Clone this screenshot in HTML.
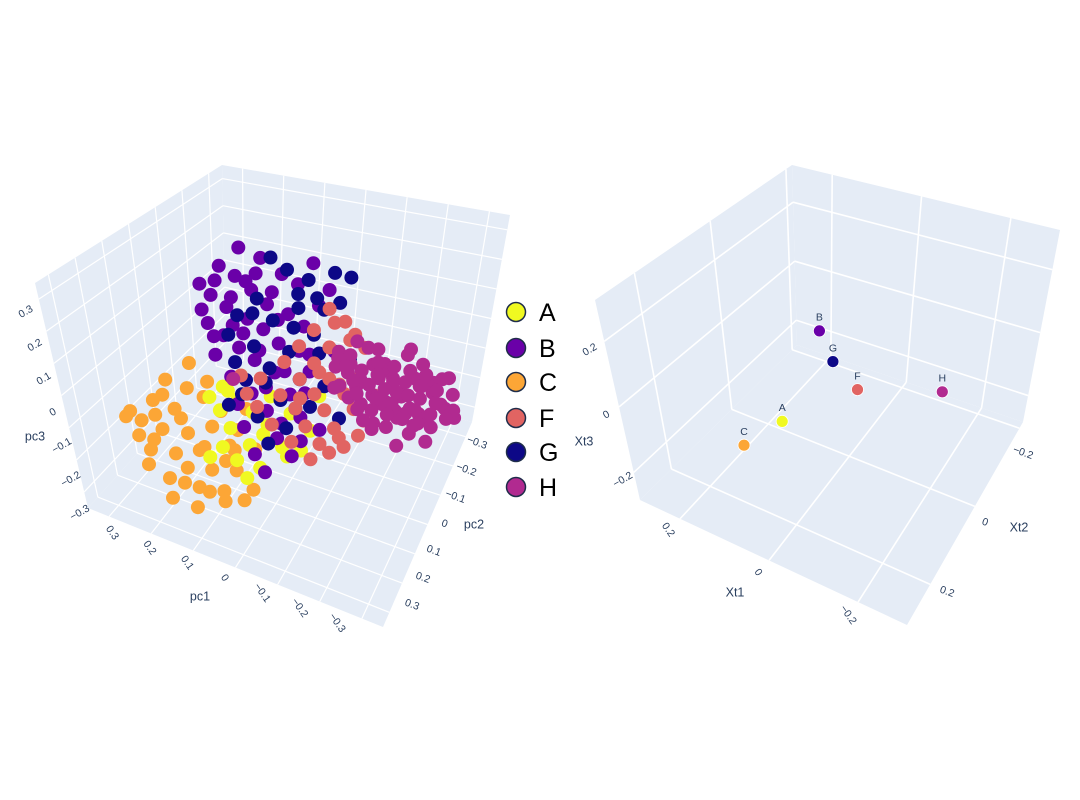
<!DOCTYPE html>
<html><head><meta charset="utf-8"><style>
html,body{margin:0;padding:0;background:#fff;}
svg{display:block;font-family:"Liberation Sans",sans-serif;}
</style></head><body>
<svg id="chart" width="1080" height="800" viewBox="0 0 1080 800">
<rect width="1080" height="800" fill="#fff"/>
<g id="left"></g>
<g id="right"></g>
<g id="legend"></g>
</svg>
<script>
// ---- data ----
const categories = ["A","B","C","F","G","H"];
const seriesA = [[0.202,0,-0.171],[0.166,0,-0.122],[0.119,0,-0.067],[0.131,0,-0.150],[0.178,0,-0.205],[0.095,0,-0.177],[0.154,0,-0.253],[0.059,0,-0.204],[0.107,0,-0.289],[0.024,0,-0.261],[0.143,0,-0.354],[-0.024,0,-0.252],[0.083,0,-0.353],[0.178,0,-0.326],[-0.071,0,-0.060],[-0.048,0,-0.179],[0.048,0,-0.107],[0,0,-0.143],[0.119,0,-0.402],[0.214,0,-0.375],[0.154,0,-0.131],[0.071,0,-0.240],[0.012,0,-0.286]];
const seriesB = [[0.154,0,0.279],[0.059,0,0.337],[0.119,0,0.258],[0.012,0,0.301],[0.178,0,0.175],[0.083,0,0.225],[-0.024,0,0.280],[0.143,0,0.148],[0.048,0,0.191],[0.190,0,0.078],[0.095,0,0.127],[0,0,0.176],[0.154,0,0.051],[0.059,0,0.106],[-0.036,0,0.149],[0.119,0,0.024],[0.024,0,0.073],[0.178,0,-0.022],[-0.071,0,0.228],[-0.024,0,0.067],[0.083,0,-0.003],[0.143,0,-0.080],[0.036,0,-0.025],[-0.048,0,0.010],[0.095,0,-0.116],[0,0,-0.082],[0.059,0,-0.158],[0.119,0,-0.235],[-0.024,0,-0.146],[0.036,0,-0.237],[0.095,0,-0.314],[0,0,-0.280],[-0.071,0,-0.167],[0.071,0,-0.362],[0.202,0,0.203],[0.107,0,0.355],[-0.095,0,0.286],[-0.059,0,0.359],[-0.107,0,0.095],[0.131,0,-0.165],[0.202,0,0.118],[0.095,0,0.249],[0.036,0,0.234],[0.131,0,0.093],[0.166,0,0.227],[0.131,0,0.184],[0.071,0,0.283],[0.024,0,0.149],[0.178,0,0.039],[0.107,0,0.075],[0.071,0,0.033],[0.012,0,-0.012],[0.059,0,-0.082],[-0.036,0,-0.064],[0.024,0,-0.185],[-0.024,0,-0.222],[-0.048,0,0.064]];
const seriesC = [[0.103,0.25,0.148],[0.162,0.25,0.072],[0.115,0.25,0.066],[0.198,0.25,-0.007],[0.257,0.25,-0.068],[0.233,0.25,-0.086],[0.150,0.25,-0.013],[0.079,0.25,0.054],[0.043,0.25,0.027],[0.186,0.25,-0.092],[0.126,0.25,-0.077],[0.067,0.25,-0.031],[0.008,0.25,-0.016],[0.222,0.25,-0.172],[0.162,0.25,-0.156],[0.103,0.25,-0.119],[0.031,0.25,-0.073],[-0.028,0.25,-0.058],[0.138,0.25,-0.189],[0.079,0.25,-0.168],[0.186,0.25,-0.244],[0.020,0.25,-0.143],[0.115,0.25,-0.238],[0.055,0.25,-0.222],[0.186,0.25,-0.305],[-0.016,0.25,-0.185],[0.126,0.25,-0.305],[0.055,0.25,-0.253],[0.233,0.25,-0.223],[0.269,0.25,-0.090],[0.138,0.25,-0.037],[0.091,0.25,-0.104],[-0.016,0.25,0.058],[0.174,0.25,0.020],[0.043,0.25,-0.125],[0.245,0.25,-0.138],[0.210,0.25,-0.135],[0.067,0.25,0.106],[0.198,0.25,-0.053],[0.020,0.25,-0.082],[0.150,0.25,-0.241],[0.091,0.25,-0.241],[0.008,0.25,-0.228]];
const seriesF = [[-0.095,0,0.226],[-0.131,0,0.198],[-0.059,0,0.146],[-0.154,0,0.165],[-0.024,0,0.082],[-0.095,0,0.104],[-0.178,0,0.132],[0.012,0,0.018],[-0.059,0,0.040],[-0.131,0,0.071],[0.071,0,-0.058],[-0.024,0,-0.024],[-0.095,0,0.004],[-0.166,0,0.034],[0.107,0,-0.122],[0.024,0,-0.094],[-0.059,0,-0.058],[-0.131,0,-0.030],[-0.012,0,-0.122],[-0.083,0,-0.100],[-0.154,0,-0.069],[0.048,0,-0.198],[-0.036,0,-0.170],[-0.107,0,-0.148],[-0.178,0,-0.096],[0,0,-0.234],[-0.071,0,-0.212],[-0.131,0,-0.197],[-0.048,0,-0.270],[-0.202,0,-0.008],[-0.119,0,-0.173],[0.083,0,-0.155],[0.119,0,-0.067],[-0.107,0,0.186],[-0.143,0,0.144],[-0.071,0,0.016],[-0.119,0,-0.005],[-0.024,0,-0.085],[-0.095,0,-0.230],[-0.166,0,-0.148]];
const seriesG = [[0.036,0,0.346],[0,0,0.319],[-0.048,0,0.302],[-0.107,0,0.344],[-0.143,0,0.341],[-0.119,0,0.253],[-0.067,0,0.250],[0.071,0,0.201],[0.119,0,0.130],[-0.024,0,0.204],[0.143,0,0.057],[0.036,0,0.143],[-0.059,0,0.131],[0.083,0,0.042],[0,0,0.055],[0.131,0,-0.028],[-0.071,0,0.076],[0.048,0,-0.016],[-0.024,0,-0.024],[0.107,0,-0.077],[-0.083,0,-0.024],[0.024,0,-0.109],[0.083,0,-0.186],[-0.048,0,-0.103],[0.012,0,-0.195],[-0.119,0,-0.112],[0.059,0,-0.264],[0.154,0,-0.177],[-0.143,0,0.083],[-0.012,0,0.137],[0.083,0,0.149],[-0.024,0,0.249],[-0.083,0,0.219],[0.059,0,-0.067],[-0.012,0,-0.122],[0.119,0,-0.128]];
const seriesH = [[-0.10,-0.14,0.02],[-0.16,-0.12,0.03],[-0.22,-0.17,0.01],[-0.06,-0.13,-0.02],[-0.12,-0.16,-0.01],[-0.17,-0.14,-0.03],[-0.21,-0.18,-0.02],[-0.26,-0.15,-0.01],[-0.30,-0.12,-0.03],[-0.05,-0.15,-0.06],[-0.09,-0.13,-0.05],[-0.13,-0.17,-0.07],[-0.17,-0.15,-0.06],[-0.20,-0.12,-0.05],[-0.24,-0.16,-0.07],[-0.28,-0.14,-0.06],[-0.32,-0.17,-0.05],[-0.04,-0.16,-0.10],[-0.08,-0.14,-0.09],[-0.11,-0.12,-0.11],[-0.15,-0.16,-0.10],[-0.19,-0.15,-0.09],[-0.22,-0.13,-0.11],[-0.25,-0.17,-0.10],[-0.29,-0.15,-0.09],[-0.33,-0.13,-0.11],[-0.06,-0.14,-0.14],[-0.10,-0.17,-0.13],[-0.14,-0.15,-0.15],[-0.18,-0.13,-0.14],[-0.21,-0.16,-0.13],[-0.24,-0.14,-0.15],[-0.27,-0.12,-0.14],[-0.31,-0.16,-0.13],[-0.35,-0.15,-0.15],[-0.08,-0.15,-0.18],[-0.12,-0.13,-0.17],[-0.16,-0.17,-0.19],[-0.20,-0.15,-0.18],[-0.23,-0.14,-0.17],[-0.27,-0.16,-0.19],[-0.30,-0.13,-0.18],[-0.10,-0.16,-0.22],[-0.15,-0.14,-0.23],[-0.20,-0.17,-0.22],[-0.25,-0.15,-0.21],[-0.29,-0.13,-0.23],[-0.14,-0.16,-0.27],[-0.22,-0.12,-0.26],[-0.03,-0.18,-0.19],[-0.36,-0.10,-0.08],[0.22,-0.15,-0.23],
[-0.08,-0.15,-0.04],[-0.15,-0.15,-0.04],[-0.19,-0.15,-0.04],[-0.23,-0.15,-0.04],[-0.27,-0.15,-0.04],[-0.31,-0.15,-0.04],
[-0.07,-0.15,-0.08],[-0.11,-0.15,-0.08],[-0.15,-0.15,-0.08],[-0.22,-0.15,-0.08],[-0.26,-0.15,-0.08],[-0.30,-0.15,-0.08],[-0.34,-0.15,-0.08],
[-0.09,-0.15,-0.12],[-0.13,-0.15,-0.12],[-0.17,-0.15,-0.12],[-0.20,-0.15,-0.12],[-0.23,-0.15,-0.12],[-0.26,-0.15,-0.12],[-0.30,-0.15,-0.12],
[-0.10,-0.15,-0.16],[-0.15,-0.15,-0.16],[-0.19,-0.15,-0.16],[-0.25,-0.15,-0.16],[-0.29,-0.15,-0.16],[-0.33,-0.15,-0.16],
[-0.14,-0.15,-0.20],[-0.18,-0.15,-0.20],[-0.22,-0.15,-0.20],[-0.26,-0.15,-0.20],
[-0.12,-0.15,-0.24],[-0.18,-0.15,-0.24],[-0.24,-0.15,-0.24]];
// right plot centroids (order of categories)
const centroidXt1 = [0.028, 0.028, 0.069, -0.064, -0.011, -0.215];
const centroidXt2 = [0.180, 0.051, 0.247, 0.066, 0.067, 0.004];
const centroidXt3 = [-0.010, 0.143, -0.040, 0.021, 0.082, 0.021];
const leftTicks = [-0.3,-0.2,-0.1,0,0.1,0.2,0.3];
const leftTickLabels = ["\u22120.3","\u22120.2","\u22120.1","0","0.1","0.2","0.3"];
const rightTicks = [-0.2,0,0.2];
const rightTickLabels = ["\u22120.2","0","0.2"];

// ---- styles / layout ----
const colors = {A:"#f0f921",B:"#6a00a8",C:"#fca636",F:"#e16462",G:"#0d0887",H:"#b12a90"};
const NS = "http://www.w3.org/2000/svg";
function mk(tag, attrs, parent){ const e=document.createElementNS(NS,tag); for(const k in attrs) e.setAttribute(k,attrs[k]); parent.appendChild(e); return e; }

const leftBox = {L:[88,508],F:[383,627],R:[472,422],B:[226,355],TL:[35,283],TF:[380,377],TR:[510,215],TB:[222,165]};
const rightBox = {L:[640,500],F:[907,625],R:[1023,422],B:[797,345],TL:[595,300],TF:[905,405],TR:[1060,230],TB:[792,165]};
function proj(bx,u,v,w){
  const bl=(a,b,c,d)=>[a[0]*(1-u)*(1-v)+b[0]*u*(1-v)+c[0]*u*v+d[0]*(1-u)*v, a[1]*(1-u)*(1-v)+b[1]*u*(1-v)+c[1]*u*v+d[1]*(1-u)*v];
  const p0=bl(bx.L,bx.F,bx.R,bx.B), p1=bl(bx.TL,bx.TF,bx.TR,bx.TB);
  return [p0[0]*(1-w)+p1[0]*w, p0[1]*(1-w)+p1[1]*w];
}
// axis functions
const L_u = p => (0.35-p)/0.7, L_v = p => (0.35-p)/0.7, L_w = p => (p+0.35)/0.7;
const R_u = p => (0.29-p)/0.6, R_v = p => (0.304-p)/0.52, R_w = p => (p+0.284)/0.61;

function drawScene(g, bx, U, V, W, ticks1, ticks2, ticks3, lw){
  const P=(u,v,w)=>proj(bx,u,v,w);
  const poly=(pts,name)=>{ const e=mk("polygon",{points:pts.map(p=>p.join(",")).join(" "),fill:"#e5ecf6"},g);
    
     };
  poly([bx.L,bx.F,bx.R,bx.B],"floor-panel");
  poly([bx.L,bx.B,bx.TB,bx.TL],"left-wall-panel");
  poly([bx.B,bx.R,bx.TR,bx.TB],"right-wall-panel");
  const line=(a,b,name)=>{ const e=mk("line",{x1:a[0],y1:a[1],x2:b[0],y2:b[1],stroke:"#fff","stroke-width":lw},g);
    
     };
  ticks1.forEach(t=>{const u=U(t); line(P(u,0,0),P(u,1,0),"gridline-x"); line(P(u,1,0),P(u,1,1),"gridline-x");});
  ticks2.forEach(t=>{const v=V(t); line(P(0,v,0),P(1,v,0),"gridline-y"); line(P(0,v,0),P(0,v,1),"gridline-y");});
  ticks3.forEach(t=>{const w=W(t); line(P(0,0,w),P(0,1,w),"gridline-z"); line(P(0,1,w),P(1,1,w),"gridline-z");});
}
function tickLabels(g, ticks, labels, v0, p0, v1, p1, rot, name, fs){
  ticks.forEach((t,i)=>{
    const f=(t-v0)/(v1-v0);
    const x=p0[0]+f*(p1[0]-p0[0]), y=p0[1]+f*(p1[1]-p0[1]);
    const e=mk("text",{x:x,y:y,"font-size":fs,fill:"#2a3f5f","text-anchor":"middle","dominant-baseline":"middle",transform:`rotate(${rot} ${x} ${y})`},g);
    
    
    e.textContent=labels[i];
  });
}
function axisTitle(g,x,y,txt,name){
  const e=mk("text",{x:x,y:y,"font-size":12.5,fill:"#2a3f5f","text-anchor":"middle","dominant-baseline":"middle"},g);
  
  
  e.textContent=txt;
}

// ---- left plot ----
const gl=document.getElementById("left");
drawScene(gl,leftBox,L_u,L_v,L_w,leftTicks,leftTicks,leftTicks,1.2);
tickLabels(gl,leftTicks,leftTickLabels,0.3,[26,312],-0.3,[80,513],-30,"pc3-tick-label",10.5);
tickLabels(gl,leftTicks,leftTickLabels,0.3,[112,533],-0.3,[337,623],55,"pc1-tick-label",10.5);
tickLabels(gl,leftTicks,leftTickLabels,-0.3,[477,443],0.3,[412,605],20,"pc2-tick-label",10.5);
axisTitle(gl,35,437,"pc3","pc3-axis-title");
axisTitle(gl,200,597,"pc1","pc1-axis-title");
axisTitle(gl,474,525,"pc2","pc2-axis-title");
const order=[["C",seriesC],["A",seriesA],["B",seriesB],["G",seriesG],["F",seriesF],["H",seriesH]];
order.forEach(([cat,pts])=>{
  const sg=mk("g",{},gl);
  
  
  pts.forEach(p=>{
    const s=proj(leftBox,L_u(p[0]),L_v(p[1]),L_w(p[2]));
    const c=mk("circle",{cx:s[0].toFixed(1),cy:s[1].toFixed(1),r:7,fill:colors[cat]},sg);
    
    
  });
});

// ---- right plot ----
const gr=document.getElementById("right");
drawScene(gr,rightBox,R_u,R_v,R_w,rightTicks,rightTicks,rightTicks,1.6);
tickLabels(gr,rightTicks,rightTickLabels,0.2,[590,350],-0.2,[623,480],-30,"xt3-tick-label",10.5);
tickLabels(gr,rightTicks,rightTickLabels,0.2,[668,530],-0.2,[848,615],55,"xt1-tick-label",10.5);
tickLabels(gr,rightTicks,rightTickLabels,-0.2,[1023,453],0.2,[947,592],20,"xt2-tick-label",10.5);
axisTitle(gr,584,442,"Xt3","xt3-axis-title");
axisTitle(gr,735,593,"Xt1","xt1-axis-title");
axisTitle(gr,1019,528,"Xt2","xt2-axis-title");
categories.forEach((cat,i)=>{
  const s=proj(rightBox,R_u(centroidXt1[i]),R_v(centroidXt2[i]),R_w(centroidXt3[i]));
  const c=mk("circle",{cx:s[0].toFixed(1),cy:s[1].toFixed(1),r:6,fill:colors[cat],stroke:"#fff","stroke-width":0.8},gr);
  
  
  const t=mk("text",{x:s[0].toFixed(1),y:(s[1]-13).toFixed(1),"font-size":10.5,fill:"#2a3f5f","text-anchor":"middle","dominant-baseline":"middle"},gr);
  
  
  t.textContent=cat;
});

// ---- legend ----
const lg=document.getElementById("legend");
const legendY=[312,348,382,418,452,487];
categories.forEach((cat,i)=>{
  const e=mk("g",{},lg);
  
  
  mk("circle",{cx:516,cy:legendY[i],r:9.5,fill:colors[cat],stroke:"#1f2d4a","stroke-width":1.5},e);
  const t=mk("text",{x:539,y:legendY[i]+9,"font-size":25,fill:"#000"},e);
  t.textContent=cat;
});
</script>
</body></html>
